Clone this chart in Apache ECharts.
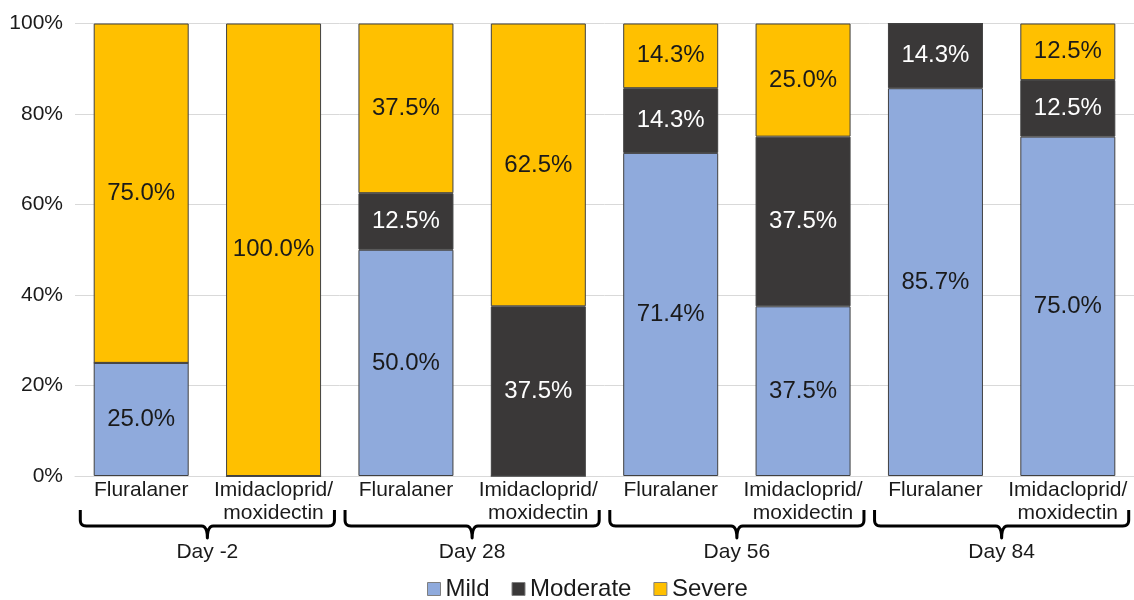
<!DOCTYPE html>
<html>
<head>
<meta charset="utf-8">
<script src="https://cdn.jsdelivr.net/npm/echarts@6/dist/echarts.min.js"></script>
<style>
  html, body { margin: 0; padding: 0; background: #fff; }
  #chart { width: 1134px; height: 600px; }
</style>
</head>
<body>
<div id="chart"></div>
<script>
// Treatment groups (one bar each) and the study day they belong to
const products = ['Fluralaner', 'Imidacloprid/\nmoxidectin', 'Fluralaner', 'Imidacloprid/\nmoxidectin',
                  'Fluralaner', 'Imidacloprid/\nmoxidectin', 'Fluralaner', 'Imidacloprid/\nmoxidectin'];
const days = ['Day -2', 'Day 28', 'Day 56', 'Day 84'];

// Share of animals per severity class (%)
const mild     = [25.0, 0,    50.0, 0,    71.4, 37.5, 85.7, 75.0];
const moderate = [0,    0,    12.5, 37.5, 14.3, 37.5, 14.3, 12.5];
const severe   = [75.0, 100.0, 37.5, 62.5, 14.3, 25.0, 0,   12.5];

const yTicks = [0, 20, 40, 60, 80, 100];

const FONT = '"Liberation Sans", Arial, sans-serif';

const chart = echarts.init(document.getElementById('chart'), null, { renderer: 'canvas' });

function seriesOf(name, values, color, textColor) {
  return {
    name: name,
    type: 'bar',
    stack: 'share',
    data: values,
    barWidth: 95,
    itemStyle: { color: color, borderColor: '#404040', borderWidth: 1 },
    label: {
      show: true,
      position: 'inside',
      color: textColor,
      fontFamily: FONT,
      fontSize: 24,
      formatter: p => (p.value > 0 ? p.value.toFixed(1) + '%' : '')
    },
    emphasis: { disabled: true }
  };
}

const option = {
  animation: false,
  backgroundColor: '#ffffff',
  textStyle: { fontFamily: FONT },
  grid: { left: 75, top: 23.5, width: 1066, height: 452.5, containLabel: false },
  legend: {
    left: 427,
    top: 577,
    padding: 0,
    itemWidth: 13,
    itemHeight: 13,
    itemGap: 22,
    icon: 'rect',
    textStyle: { fontFamily: FONT, fontSize: 24, color: '#1a1a1a', padding: [0, 0, 0, 0] },
    data: ['Mild', 'Moderate', 'Severe'],
    itemStyle: { borderColor: '#7f7f7f', borderWidth: 1 }
  },
  xAxis: [
    {
      type: 'category',
      data: products,
      axisLine: { show: true, lineStyle: { color: '#d9d9d9', width: 1 } },
      axisTick: { show: false },
      axisLabel: {
        interval: 0,
        margin: 3,
        fontFamily: FONT,
        fontSize: 21,
        lineHeight: 23,
        color: '#1a1a1a'
      }
    },
    {
      type: 'category',
      data: days,
      position: 'bottom',
      axisLine: { show: false },
      axisTick: { show: false },
      axisLabel: {
        interval: 0,
        margin: 66,
        fontFamily: FONT,
        fontSize: 21,
        color: '#1a1a1a'
      }
    }
  ],
  yAxis: {
    type: 'value',
    min: yTicks[0],
    max: yTicks[yTicks.length - 1],
    interval: 20,
    axisLine: { show: false },
    axisTick: { show: false },
    splitLine: { lineStyle: { color: '#d9d9d9', width: 1 } },
    axisLabel: {
      margin: 12,
      fontFamily: FONT,
      fontSize: 21,
      color: '#1a1a1a',
      formatter: '{value}%'
    }
  },
  series: [
    seriesOf('Mild', mild, '#8faadc', '#1a1a1a'),
    seriesOf('Moderate', moderate, '#3a3838', '#ffffff'),
    seriesOf('Severe', severe, '#ffc000', '#1a1a1a')
  ]
};

chart.setOption(option);

// Points of a quadratic curve from p0 to p2 bending towards c
function curve(p0, c, p2, n) {
  const pts = [];
  for (let k = 1; k <= n; k++) {
    const t = k / n, u = 1 - t;
    pts.push([u * u * p0[0] + 2 * u * t * c[0] + t * t * p2[0],
              u * u * p0[1] + 2 * u * t * c[1] + t * t * p2[1]]);
  }
  return pts;
}

// Curly braces under each pair of bars, grouping them by study day
function drawBraces() {
  const base = chart.convertToPixel({ yAxisIndex: 0 }, 0);
  const step = chart.convertToPixel({ xAxisIndex: 0 }, 1) - chart.convertToPixel({ xAxisIndex: 0 }, 0);
  const top = base + 34, mid = base + 50, tip = base + 62, r = 6;
  const graphics = days.map((d, i) => {
    const a = chart.convertToPixel({ xAxisIndex: 0 }, 2 * i);
    const b = chart.convertToPixel({ xAxisIndex: 0 }, 2 * i + 1);
    const cx = (a + b) / 2;
    const L = a - step * 0.46, R = b + step * 0.46;
    let pts = [[L, top], [L, mid - r]];
    pts = pts.concat(curve([L, mid - r], [L, mid], [L + r, mid], 6));
    pts.push([cx - r, mid]);
    pts = pts.concat(curve([cx - r, mid], [cx, mid], [cx, tip], 6));
    pts = pts.concat(curve([cx, tip], [cx, mid], [cx + r, mid], 6));
    pts.push([R - r, mid]);
    pts = pts.concat(curve([R - r, mid], [R, mid], [R, mid - r], 6));
    pts.push([R, top]);
    return {
      type: 'polyline',
      shape: { points: pts },
      style: { fill: null, stroke: '#000000', lineWidth: 3, lineJoin: 'round' },
      silent: true
    };
  });
  chart.setOption({ graphic: graphics });
}
drawBraces();
</script>
</body>
</html>
